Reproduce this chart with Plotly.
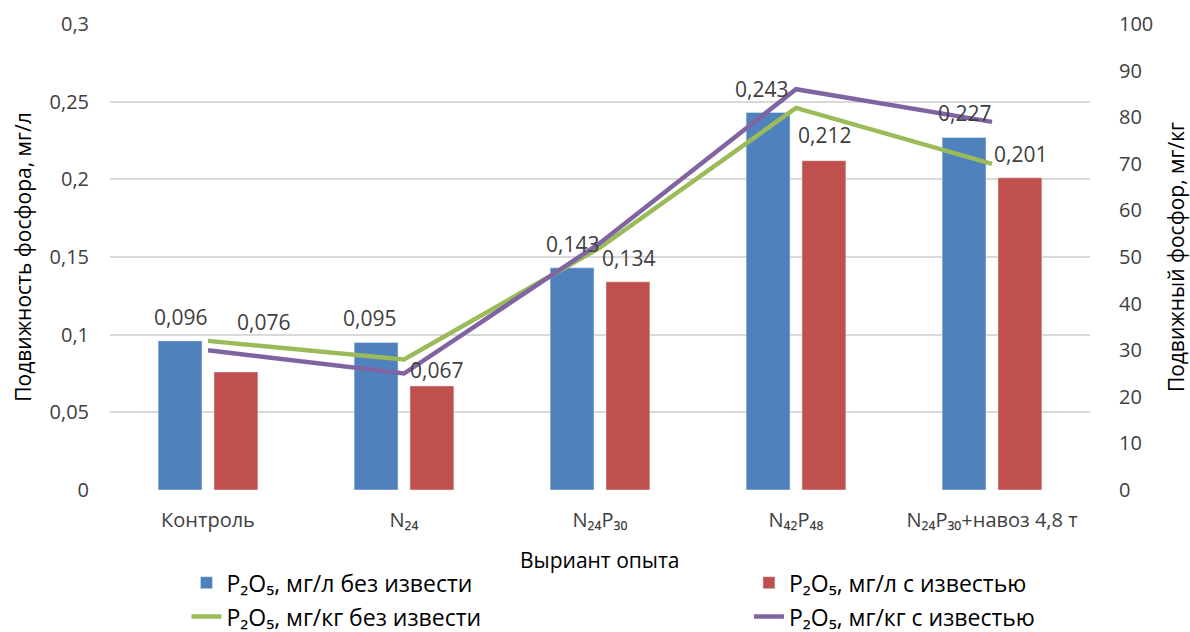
import plotly.graph_objects as go

categories = ["Контроль", "N₂₄", "N₂₄P₃₀", "N₄₂P₄₈", "N₂₄P₃₀+навоз 4,8 т"]
mgl_no_lime = [0.096, 0.095, 0.143, 0.243, 0.227]
mgl_lime = [0.076, 0.067, 0.134, 0.212, 0.201]
mgkg_no_lime = [32, 28, 52, 82, 70]
mgkg_lime = [30, 25, 53, 86, 79]

names = ["P₂O₅, мг/л без извести", "P₂O₅, мг/л с известью",
         "P₂O₅, мг/кг без извести", "P₂O₅, мг/кг с известью"]
x_title = "Выриант опыта"
left_ticks = [0, 0.05, 0.1, 0.15, 0.2, 0.25, 0.3]
right_ticks = list(range(0, 101, 10))

BLUE, RED, GREEN, PURPLE = "#4f81bd", "#c0504d", "#9bbb59", "#8064a2"
TXT = "#404040"
FONT = "'Open Sans', sans-serif"

# label offsets (style): (xshift, yshift) relative to bar top
blue_off = [(0, 24), (-7, 24), (0, 24), (-7, 24), (0, 24)]
red_off = [(27, 50), (4, 16), (0, 24), (0, 26), (0, 24)]

def fmt(v):
    return f"{v:.3f}".replace(".", ",")

fig = go.Figure()
fig.add_trace(go.Bar(x=categories, y=mgl_no_lime, name=names[0], marker_color=BLUE,
                     yaxis="y", legend="legend", legendgroup="a"))
fig.add_trace(go.Bar(x=categories, y=mgl_lime, name=names[1], marker_color=RED,
                     yaxis="y", legend="legend2", legendgroup="b"))
fig.add_trace(go.Scatter(x=categories, y=mgkg_no_lime, name=names[2], mode="lines",
                         line=dict(color=GREEN, width=4.5), yaxis="y2",
                         legend="legend", legendgroup="c"))
fig.add_trace(go.Scatter(x=categories, y=mgkg_lime, name=names[3], mode="lines",
                         line=dict(color=PURPLE, width=4.5), yaxis="y2",
                         legend="legend2", legendgroup="d"))

annotations = []
for i, c in enumerate(categories):
    for vals, offs, base in ((mgl_no_lime, blue_off, -28), (mgl_lime, red_off, 28)):
        dx, dy = offs[i]
        annotations.append(dict(x=c, y=vals[i], xref="x", yref="y", text=fmt(vals[i]),
                                showarrow=False, xshift=base + dx, yshift=dy,
                                yanchor="middle", font=dict(size=21, color=TXT, family=FONT)))
annotations.append(dict(x=0.5, y=-0.15, xref="paper", yref="paper", text=x_title,
                        showarrow=False, xanchor="center", yanchor="middle",
                        font=dict(size=21, color="#000000", family=FONT)))

leg_common = dict(orientation="v", yanchor="top", xanchor="left", yref="container",
                  font=dict(size=23, color="#000000", family=FONT),
                  tracegroupgap=1, bgcolor="rgba(0,0,0,0)")

fig.update_layout(
    width=1190, height=632,
    margin=dict(l=110, r=100, t=24, b=142, autoexpand=False),
    paper_bgcolor="white", plot_bgcolor="white",
    separators=", ",
    barmode="group", bargap=0.43, bargroupgap=0.214,
    font=dict(family=FONT, size=20, color=TXT),
    showlegend=True,
    legend=dict(x=0.078, y=0.112, **leg_common),
    legend2=dict(x=0.652, y=0.112, **leg_common),
    annotations=annotations,
    xaxis=dict(showgrid=False, showline=False, ticks="", automargin=False,
               ticklabelstandoff=16, tickfont=dict(size=20, color=TXT)),
    yaxis=dict(range=[0, 0.3], tickvals=left_ticks, showgrid=True, gridcolor="#d9d9d9",
               gridwidth=1.5, zeroline=False, showline=False, ticklabelstandoff=20,
               automargin=False, tickfont=dict(size=20, color=TXT),
               title=dict(text="Подвижность фосфора, мг/л", font=dict(size=21, color="#000000"),
                          standoff=12)),
    yaxis2=dict(range=[0, 100], tickvals=right_ticks, overlaying="y", side="right",
                showgrid=False, zeroline=False, showline=False, ticklabelstandoff=28,
                automargin=False, tickfont=dict(size=20, color=TXT),
                title=dict(text="Подвижный фосфор, мг/кг", font=dict(size=21, color="#000000"),
                           standoff=18)),
)

fig.write_html("out.html", config={"displayModeBar": False},
               post_script="document.body.style.margin='0';")
